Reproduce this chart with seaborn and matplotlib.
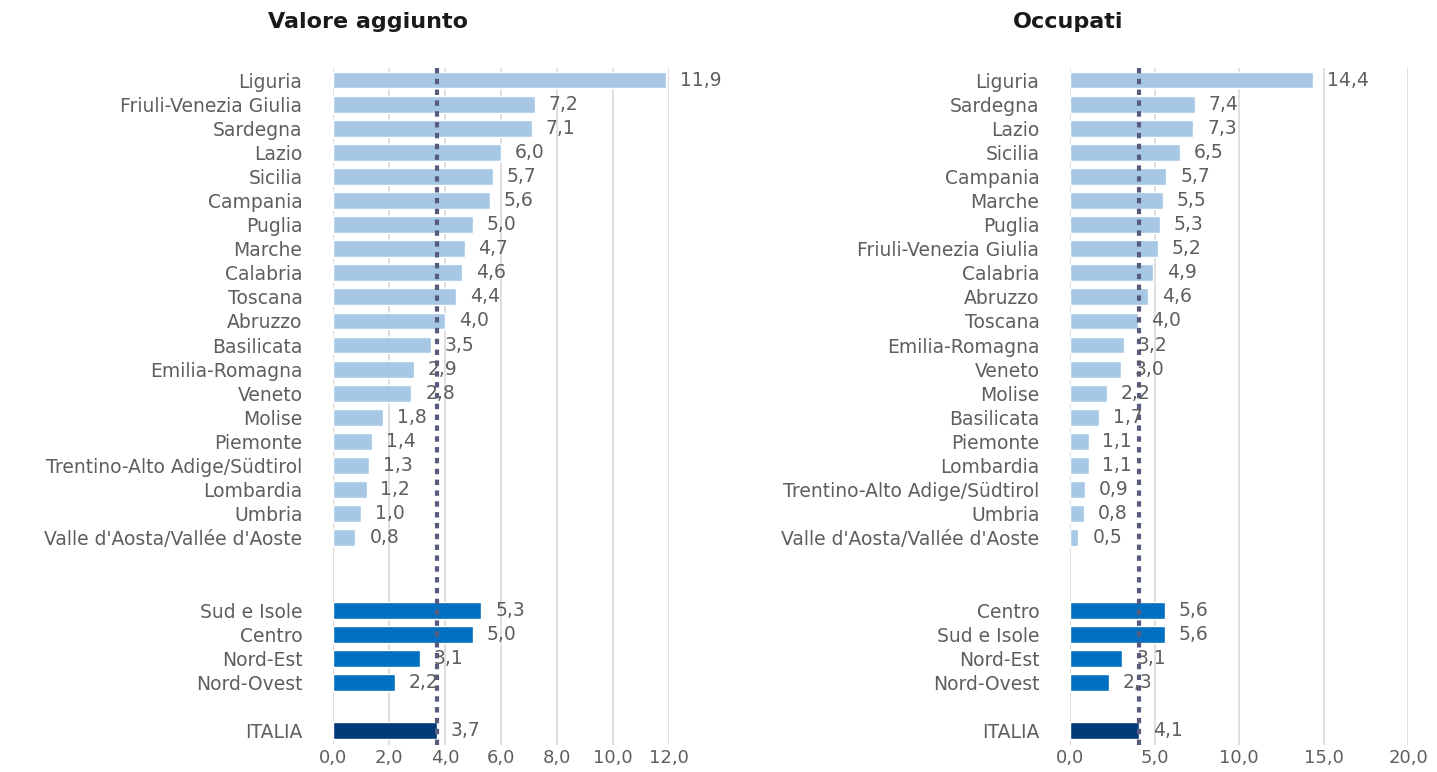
import matplotlib
matplotlib.use("Agg")
import matplotlib.pyplot as plt
import seaborn as sns
import pandas as pd

# ---------------- data ----------------
va_regions = ["Liguria", "Friuli-Venezia Giulia", "Sardegna", "Lazio", "Sicilia",
              "Campania", "Puglia", "Marche", "Calabria", "Toscana", "Abruzzo",
              "Basilicata", "Emilia-Romagna", "Veneto", "Molise", "Piemonte",
              "Trentino-Alto Adige/Südtirol", "Lombardia", "Umbria",
              "Valle d'Aosta/Vallée d'Aoste"]
va_region_values = [11.9, 7.2, 7.1, 6.0, 5.7, 5.6, 5.0, 4.7, 4.6, 4.4, 4.0,
                    3.5, 2.9, 2.8, 1.8, 1.4, 1.3, 1.2, 1.0, 0.8]
va_areas = ["Sud e Isole", "Centro", "Nord-Est", "Nord-Ovest"]
va_area_values = [5.3, 5.0, 3.1, 2.2]
va_italia = 3.7

occ_regions = ["Liguria", "Sardegna", "Lazio", "Sicilia", "Campania", "Marche",
               "Puglia", "Friuli-Venezia Giulia", "Calabria", "Abruzzo", "Toscana",
               "Emilia-Romagna", "Veneto", "Molise", "Basilicata", "Piemonte",
               "Lombardia", "Trentino-Alto Adige/Südtirol", "Umbria",
               "Valle d'Aosta/Vallée d'Aoste"]
occ_region_values = [14.4, 7.4, 7.3, 6.5, 5.7, 5.5, 5.3, 5.2, 4.9, 4.6, 4.0,
                     3.2, 3.0, 2.2, 1.7, 1.1, 1.1, 0.9, 0.8, 0.5]
occ_areas = ["Centro", "Sud e Isole", "Nord-Est", "Nord-Ovest"]
occ_area_values = [5.6, 5.6, 3.1, 2.3]
occ_italia = 4.1

titles = ["Valore aggiunto", "Occupati"]
xticks_left = [0, 2, 4, 6, 8, 10, 12]
xticks_right = [0, 5, 10, 15, 20]

# ---------------- style ----------------
sns.set_theme(style="white")
plt.rcParams["font.family"] = ["DejaVu Sans"]

COL_REG = "#A6C8E5"
COL_AREA = "#0070C0"
COL_IT = "#003A78"
TXT = "#5E5E5E"
GRID = "#D9D9D9"
DASH = "#575C7E"


def build_df(regions, rvals, areas, avals, italia):
    rows = []
    for i, (n, v) in enumerate(zip(regions, rvals)):
        rows.append(dict(pos=i, label=n, value=v, group="reg"))
    start = len(regions) + 2
    for j, (n, v) in enumerate(zip(areas, avals)):
        rows.append(dict(pos=start + j, label=n, value=v, group="area"))
    rows.append(dict(pos=start + len(areas) + 1, label="ITALIA", value=italia, group="it"))
    return pd.DataFrame(rows)


fig = plt.figure(figsize=(14.37, 7.72), dpi=100)
ax1 = fig.add_axes([333 / 1437, 1 - 745 / 772, 336 / 1437, (745 - 68) / 772])
ax2 = fig.add_axes([1070 / 1437, 1 - 745 / 772, 338 / 1437, (745 - 68) / 772])

panels = [
    (ax1, build_df(va_regions, va_region_values, va_areas, va_area_values, va_italia),
     va_italia, xticks_left, 12),
    (ax2, build_df(occ_regions, occ_region_values, occ_areas, occ_area_values, occ_italia),
     occ_italia, xticks_right, 20),
]

for ax, df, it_val, xt, xmax in panels:
    sns.barplot(data=df, x="value", y="pos", hue="group", orient="h",
                native_scale=True, dodge=False, width=0.7, legend=False,
                palette={"reg": COL_REG, "area": COL_AREA, "it": COL_IT},
                saturation=1, ax=ax, zorder=2)
    ax.set_xlim(0, xmax)
    ax.set_ylim(27.6, -0.5)
    ax.set_xticks(xt)
    ax.set_xticklabels([f"{t:.1f}".replace(".", ",") for t in xt],
                       color=TXT, fontsize=13)
    ax.set_yticks(df["pos"])
    ax.set_yticklabels(df["label"], color=TXT, fontsize=13.5)
    ax.tick_params(axis="y", length=0, pad=22)
    ax.tick_params(axis="x", length=0, pad=3)
    ax.set_xlabel("")
    ax.set_ylabel("")
    for s in ax.spines.values():
        s.set_visible(False)
    ax.xaxis.grid(True, color=GRID, linewidth=1.2, zorder=0)
    ax.set_axisbelow(True)
    ax.axvline(it_val, color=DASH, linewidth=3, linestyle=(0, (1.3, 1.3)), zorder=4)
    for _, r in df.iterrows():
        ax.annotate(f"{r['value']:.1f}".replace(".", ","), (r["value"], r["pos"]),
                    xytext=(10, 0), textcoords="offset points", va="center",
                    ha="left", color=TXT, fontsize=13.5, zorder=5)

fig.text(368 / 1437, 1 - 22 / 772, titles[0], ha="center", va="center",
         fontsize=16, fontweight="bold", color="#1a1a1a")
fig.text(1068 / 1437, 1 - 22 / 772, titles[1], ha="center", va="center",
         fontsize=16, fontweight="bold", color="#1a1a1a")

fig.savefig("out.png", dpi=100)
